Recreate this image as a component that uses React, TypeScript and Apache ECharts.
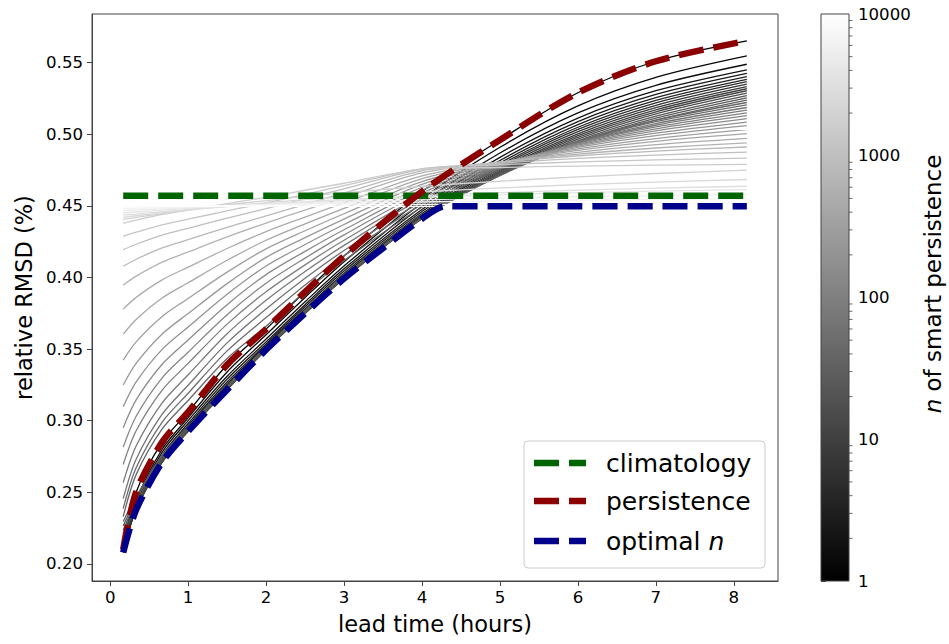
import React, { useEffect, useRef } from "react";
import * as echarts from "echarts";

// lead times (hours) at which each curve was read
const leadTimes = [0.167, 0.333, 0.667, 1, 1.5, 2, 2.5, 3, 4, 5, 6, 7, 8.167];

// n of smart persistence for each gray curve
const nValues = [
  1, 1.26, 1.58, 2, 2.51, 3.16, 3.98, 5.01, 6.31, 7.94, 10, 12.6, 15.8, 20, 25.1, 31.6,
  39.8, 50.1, 63.1, 79.4, 100, 126, 158, 200, 251, 316, 398, 501, 631, 794, 1000, 1259,
  1585, 1995, 2512, 3162, 3981, 5012, 6310, 7943, 10000,
];

// relative RMSD of smart persistence, one row per n
const smartRmsd: number[][] = [
  [0.2100, 0.2500, 0.2850, 0.3060, 0.3390, 0.3640, 0.3900, 0.4150, 0.4600, 0.4960, 0.5290, 0.5510, 0.5652],
  [0.2088, 0.2440, 0.2800, 0.3020, 0.3340, 0.3600, 0.3860, 0.4110, 0.4550, 0.4909, 0.5198, 0.5397, 0.5547],
  [0.2082, 0.2420, 0.2780, 0.3000, 0.3310, 0.3570, 0.3830, 0.4080, 0.4520, 0.4869, 0.5149, 0.5342, 0.5489],
  [0.2079, 0.2400, 0.2760, 0.2980, 0.3290, 0.3550, 0.3810, 0.4060, 0.4495, 0.4839, 0.5113, 0.5304, 0.5450],
  [0.2081, 0.2390, 0.2745, 0.2965, 0.3270, 0.3535, 0.3795, 0.4045, 0.4475, 0.4817, 0.5089, 0.5279, 0.5426],
  [0.2087, 0.2385, 0.2735, 0.2955, 0.3255, 0.3525, 0.3780, 0.4030, 0.4460, 0.4799, 0.5068, 0.5256, 0.5403],
  [0.2096, 0.2380, 0.2725, 0.2945, 0.3245, 0.3515, 0.3770, 0.4018, 0.4447, 0.4784, 0.5049, 0.5237, 0.5384],
  [0.2108, 0.2378, 0.2718, 0.2938, 0.3235, 0.3508, 0.3762, 0.4008, 0.4436, 0.4772, 0.5034, 0.5220, 0.5368],
  [0.2123, 0.2380, 0.2712, 0.2932, 0.3228, 0.3502, 0.3756, 0.4000, 0.4427, 0.4759, 0.5018, 0.5202, 0.5350],
  [0.2140, 0.2385, 0.2710, 0.2928, 0.3222, 0.3498, 0.3752, 0.3995, 0.4420, 0.4749, 0.5003, 0.5186, 0.5333],
  [0.2160, 0.2392, 0.2710, 0.2926, 0.3218, 0.3496, 0.3750, 0.3992, 0.4415, 0.4740, 0.4990, 0.5171, 0.5318],
  [0.2183, 0.2402, 0.2713, 0.2926, 0.3216, 0.3495, 0.3750, 0.3992, 0.4412, 0.4733, 0.4979, 0.5157, 0.5304],
  [0.2208, 0.2415, 0.2720, 0.2930, 0.3217, 0.3497, 0.3752, 0.3994, 0.4410, 0.4726, 0.4966, 0.5142, 0.5287],
  [0.2235, 0.2430, 0.2730, 0.2937, 0.3222, 0.3500, 0.3756, 0.3998, 0.4410, 0.4720, 0.4954, 0.5126, 0.5270],
  [0.2265, 0.2448, 0.2743, 0.2946, 0.3230, 0.3506, 0.3762, 0.4004, 0.4412, 0.4715, 0.4944, 0.5112, 0.5254],
  [0.2295, 0.2468, 0.2758, 0.2958, 0.3240, 0.3514, 0.3770, 0.4011, 0.4415, 0.4711, 0.4934, 0.5098, 0.5238],
  [0.2330, 0.2623, 0.2942, 0.3141, 0.3434, 0.3660, 0.3901, 0.4117, 0.4490, 0.4754, 0.4951, 0.5098, 0.5222],
  [0.2386, 0.2671, 0.2990, 0.3191, 0.3487, 0.3720, 0.3947, 0.4152, 0.4510, 0.4761, 0.4948, 0.5088, 0.5206],
  [0.2455, 0.2730, 0.3045, 0.3247, 0.3543, 0.3780, 0.3994, 0.4188, 0.4530, 0.4767, 0.4944, 0.5075, 0.5187],
  [0.2567, 0.2823, 0.3124, 0.3320, 0.3607, 0.3840, 0.4041, 0.4224, 0.4550, 0.4772, 0.4939, 0.5063, 0.5168],
  [0.2694, 0.2929, 0.3213, 0.3400, 0.3674, 0.3900, 0.4088, 0.4260, 0.4570, 0.4779, 0.4935, 0.5051, 0.5150],
  [0.2815, 0.3031, 0.3299, 0.3478, 0.3740, 0.3960, 0.4135, 0.4297, 0.4590, 0.4784, 0.4930, 0.5038, 0.5130],
  [0.2950, 0.3145, 0.3394, 0.3563, 0.3810, 0.4020, 0.4182, 0.4333, 0.4610, 0.4790, 0.4924, 0.5024, 0.5109],
  [0.3098, 0.3271, 0.3498, 0.3654, 0.3883, 0.4080, 0.4230, 0.4370, 0.4630, 0.4794, 0.4917, 0.5008, 0.5085],
  [0.3249, 0.3400, 0.3605, 0.3748, 0.3957, 0.4140, 0.4278, 0.4408, 0.4650, 0.4798, 0.4908, 0.4990, 0.5060],
  [0.3423, 0.3550, 0.3728, 0.3853, 0.4037, 0.4200, 0.4326, 0.4445, 0.4670, 0.4800, 0.4898, 0.4970, 0.5032],
  [0.3604, 0.3707, 0.3857, 0.3963, 0.4120, 0.4260, 0.4374, 0.4483, 0.4690, 0.4803, 0.4888, 0.4951, 0.5004],
  [0.3779, 0.3861, 0.3983, 0.4072, 0.4202, 0.4320, 0.4422, 0.4521, 0.4710, 0.4804, 0.4874, 0.4927, 0.4971],
  [0.3946, 0.4009, 0.4107, 0.4178, 0.4283, 0.4380, 0.4471, 0.4559, 0.4730, 0.4806, 0.4862, 0.4904, 0.4940],
  [0.4078, 0.4127, 0.4206, 0.4264, 0.4350, 0.4430, 0.4511, 0.4590, 0.4745, 0.4805, 0.4850, 0.4883, 0.4911],
  [0.4194, 0.4232, 0.4296, 0.4343, 0.4414, 0.4480, 0.4550, 0.4619, 0.4755, 0.4798, 0.4831, 0.4855, 0.4875],
  [0.4287, 0.4316, 0.4368, 0.4407, 0.4465, 0.4520, 0.4581, 0.4641, 0.4760, 0.4787, 0.4807, 0.4821, 0.4834],
  [0.4378, 0.4400, 0.4440, 0.4471, 0.4516, 0.4560, 0.4609, 0.4658, 0.4755, 0.4768, 0.4778, 0.4784, 0.4790],
  [0.4405, 0.4419, 0.4446, 0.4471, 0.4506, 0.4537, 0.4566, 0.4591, 0.4636, 0.4672, 0.4702, 0.4726, 0.4749],
  [0.4420, 0.4431, 0.4451, 0.4471, 0.4497, 0.4522, 0.4543, 0.4563, 0.4597, 0.4625, 0.4648, 0.4666, 0.4684],
  [0.4435, 0.4443, 0.4459, 0.4474, 0.4494, 0.4513, 0.4529, 0.4544, 0.4571, 0.4592, 0.4609, 0.4624, 0.4637],
  [0.4450, 0.4457, 0.4470, 0.4482, 0.4498, 0.4513, 0.4527, 0.4539, 0.4560, 0.4577, 0.4592, 0.4603, 0.4614],
  [0.4465, 0.4470, 0.4479, 0.4487, 0.4499, 0.4509, 0.4519, 0.4527, 0.4542, 0.4554, 0.4564, 0.4572, 0.4580],
  [0.4480, 0.4483, 0.4488, 0.4493, 0.4501, 0.4507, 0.4513, 0.4518, 0.4527, 0.4534, 0.4540, 0.4545, 0.4550],
  [0.4492, 0.4493, 0.4495, 0.4497, 0.4500, 0.4502, 0.4505, 0.4507, 0.4510, 0.4512, 0.4514, 0.4516, 0.4518],
  [0.4500, 0.4500, 0.4499, 0.4499, 0.4498, 0.4498, 0.4497, 0.4497, 0.4497, 0.4497, 0.4497, 0.4497, 0.4497],
];

// reference forecasts
const climatology = [0.457, 0.457];
const climatologyLeadTimes = [0.167, 8.167];
const persistence = [0.2100, 0.2500, 0.2850, 0.3060, 0.3390, 0.3640, 0.3900, 0.4150, 0.4600, 0.4960, 0.5290, 0.5510, 0.5652];
const optimalLeadTimes = [0.167, 0.333, 0.667, 1, 1.5, 2, 2.5, 3, 3.5, 4, 4.3, 5, 6, 7, 8.167];
const optimalN = [0.2079, 0.2378, 0.2710, 0.2926, 0.3216, 0.3495, 0.3750, 0.3992, 0.4205, 0.4410, 0.4497, 0.4497, 0.4497, 0.4497, 0.4497];

// ticks
const xTicks = [0, 1, 2, 3, 4, 5, 6, 7, 8];
const yTicks = [0.2, 0.25, 0.3, 0.35, 0.4, 0.45, 0.5, 0.55];

const FONT = "DejaVu Sans";
const DASH = [25, 10];

export default function App() {
  const ref = useRef<HTMLDivElement>(null);

  useEffect(() => {
    if (!ref.current) return;
    const chart = echarts.init(ref.current, null, { renderer: "svg" });

    const grayFor = (n: number) => {
      const v = Math.round((255 * Math.log10(n)) / 4);
      return `rgb(${v},${v},${v})`;
    };

    const series: any[] = smartRmsd.map((vals, i) => ({
      type: "line",
      xAxisIndex: 0,
      yAxisIndex: 0,
      data: vals.map((v, k) => [leadTimes[k], v]),
      symbol: "none",
      smooth: 0.3,
      silent: true,
      lineStyle: { color: grayFor(nValues[i]), width: 1.3 },
      z: 2,
    }));

    series.push({
      name: "climatology",
      type: "line",
      data: climatology.map((v, k) => [climatologyLeadTimes[k], v]),
      symbol: "none",
      silent: true,
      lineStyle: { color: "#006400", width: 6.5, type: DASH, cap: "butt" },
      z: 3,
    });
    series.push({
      name: "persistence",
      type: "line",
      data: persistence.map((v, k) => [leadTimes[k], v]),
      symbol: "none",
      smooth: 0.3,
      silent: true,
      lineStyle: { color: "#8b0000", width: 6.5, type: DASH, cap: "butt" },
      z: 3,
    });
    series.push({
      name: "optimal n",
      type: "line",
      data: optimalN.map((v, k) => [optimalLeadTimes[k], v]),
      symbol: "none",
      smooth: 0.3,
      silent: true,
      lineStyle: { color: "#00008b", width: 6.5, type: DASH, cap: "butt" },
      z: 3,
    });

    const legendRows = [
      { label: "climatology", color: "#006400", y: 463 },
      { label: "persistence", color: "#8b0000", y: 501 },
      { label: "optimal {i|n}", color: "#00008b", y: 541 },
    ];

    const legendGraphic: any[] = [
      {
        type: "rect",
        shape: { x: 524, y: 441, width: 241, height: 127, r: 4 },
        style: { fill: "rgba(255,255,255,0.8)", stroke: "#cccccc", lineWidth: 1 },
        z: 10,
      },
    ];
    legendRows.forEach((r) => {
      legendGraphic.push({
        type: "line",
        shape: { x1: 534, y1: r.y, x2: 586, y2: r.y },
        style: { stroke: r.color, lineWidth: 6.5, lineDash: DASH, lineCap: "butt" },
        z: 11,
      });
      legendGraphic.push({
        type: "text",
        x: 606,
        y: r.y,
        style: {
          text: r.label,
          fontFamily: FONT,
          fontSize: 25,
          fill: "#000",
          verticalAlign: "middle",
          align: "left",
          rich: { i: { fontFamily: FONT, fontSize: 25, fontStyle: "italic", fill: "#000" } },
        },
        z: 11,
      });
    });

    const option: any = {
      animation: false,
      backgroundColor: "#ffffff",
      textStyle: { fontFamily: FONT },
      grid: [
        { left: 92, top: 14, width: 686, height: 567, show: true, borderColor: "#444", borderWidth: 1, backgroundColor: "transparent" },
        { left: 821, top: 14, width: 28, height: 567, show: false },
      ],
      xAxis: [
        {
          type: "value",
          gridIndex: 0,
          min: -0.2333,
          max: 8.5667,
          name: "lead time (hours)",
          nameLocation: "middle",
          nameGap: 31,
          nameTextStyle: { fontSize: 22.5, color: "#000", fontFamily: FONT },
          axisLine: { show: true, onZero: false, lineStyle: { color: "#444", width: 1 } },
          axisTick: { show: true, length: 5, customValues: xTicks, lineStyle: { color: "#444" } },
          axisLabel: { customValues: xTicks, fontSize: 16.6, color: "#000", margin: 8, fontFamily: FONT, formatter: (v: number) => String(v) },
          splitLine: { show: false },
        },
        { type: "value", gridIndex: 1, show: false, min: 0, max: 1 },
      ],
      yAxis: [
        {
          type: "value",
          gridIndex: 0,
          min: 0.1880,
          max: 0.5840,
          name: "relative RMSD (%)",
          nameLocation: "middle",
          nameGap: 56,
          nameRotate: 90,
          nameTextStyle: { fontSize: 22.5, color: "#000", fontFamily: FONT },
          axisLine: { show: true, onZero: false, lineStyle: { color: "#444", width: 1 } },
          axisTick: { show: true, length: 5, customValues: yTicks, lineStyle: { color: "#444" } },
          axisLabel: { customValues: yTicks, fontSize: 16.6, color: "#000", margin: 9, fontFamily: FONT, formatter: (v: number) => v.toFixed(2) },
          splitLine: { show: false },
        },
        {
          type: "log",
          gridIndex: 1,
          logBase: 10,
          min: 1,
          max: 10000,
          position: "right",
          axisLine: { show: false },
          axisTick: { show: true, length: 5, lineStyle: { color: "#444" } },
          axisLabel: { fontSize: 16.6, color: "#000", margin: 9, fontFamily: FONT, formatter: (v: number) => String(Math.round(v)) },
          splitLine: { show: false },
        },
      ],
      series,
      graphic: [
        {
          type: "rect",
          shape: { x: 821, y: 14, width: 28, height: 567 },
          style: {
            fill: new echarts.graphic.LinearGradient(0, 0, 0, 1, [
              { offset: 0, color: "#ffffff" },
              { offset: 1, color: "#000000" },
            ]),
            stroke: "#444",
            lineWidth: 1,
          },
          z: 1,
        },
        {
          type: "text",
          x: 933,
          y: 284,
          rotation: Math.PI / 2,
          style: {
            text: "{i|n} of smart persistence",
            fontFamily: FONT,
            fontSize: 23,
            fill: "#000",
            align: "center",
            verticalAlign: "middle",
            rich: { i: { fontFamily: FONT, fontSize: 23, fontStyle: "italic", fill: "#000" } },
          },
        },
        ...legendGraphic,
      ],
    };

    chart.setOption(option);

    // minor log ticks on the colour bar, placed through the log axis
    const minor: any[] = [];
    for (let d = 0; d < 4; d++) {
      for (let m = 2; m <= 9; m++) {
        const val = m * Math.pow(10, d);
        const py = chart.convertToPixel({ yAxisIndex: 1 }, val) as number;
        minor.push({
          type: "line",
          shape: { x1: 849, y1: py, x2: 852.5, y2: py },
          style: { stroke: "#444", lineWidth: 0.8 },
          z: 2,
        });
      }
    }
    chart.setOption({ graphic: [...option.graphic, ...minor] });

    return () => chart.dispose();
  }, []);

  return (
    <div
      ref={ref}
      style={{ position: "fixed", left: 0, top: 0, width: 949, height: 644, background: "#fff" }}
    />
  );
}
